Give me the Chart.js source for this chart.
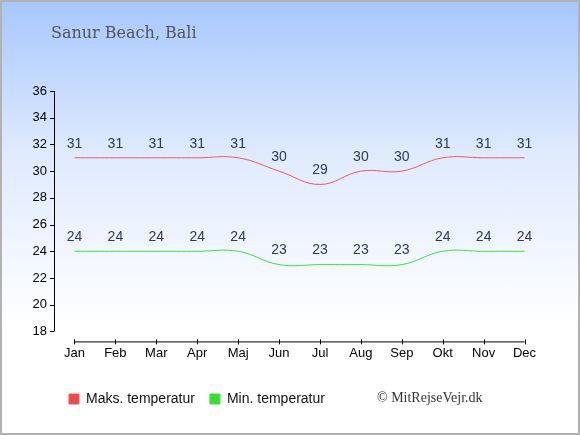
<!DOCTYPE html>
<html>
<head>
<meta charset="utf-8">
<script src="https://cdn.jsdelivr.net/npm/chart.js@4"></script>
<style>
  body { margin: 0; }
  #wrap {
    position: relative;
    width: 580px;
    height: 435px;
    background: linear-gradient(to bottom, #a6c7fe 0%, #dfeafe 35%, #ffffff 75%, #ffffff 100%);
    box-shadow: inset 0 0 0 2px #b2b2b2;
  }
  #chart { position: absolute; left: 0; top: 0; }
</style>
</head>
<body>
<div id="wrap"><canvas id="chart" width="580" height="435"></canvas></div>
<script>
const months = ['Jan', 'Feb', 'Mar', 'Apr', 'Maj', 'Jun', 'Jul', 'Aug', 'Sep', 'Okt', 'Nov', 'Dec'];
const maxTemp = [31, 31, 31, 31, 31, 30, 29, 30, 30, 31, 31, 31];
const minTemp = [24, 24, 24, 24, 24, 23, 23, 23, 23, 24, 24, 24];
const yMin = 18;
const yMax = 36;
const yStep = 2;

// axis lines drawn by hand, y axis and x axis are detached like the original
const axisLines = {
  id: 'axisLines',
  afterDraw(chart) {
    const ctx = chart.ctx;
    const x = chart.scales.x;
    const y = chart.scales.y;
    const left = chart.chartArea.left;
    const xAxisY = chart.chartArea.bottom + 10;
    ctx.save();
    ctx.strokeStyle = '#000';
    ctx.lineWidth = 1;
    ctx.beginPath();
    ctx.moveTo(left + 0.5, y.getPixelForValue(yMax));
    ctx.lineTo(left + 0.5, y.getPixelForValue(yMin));
    for (let v = yMin; v <= yMax; v += yStep) {
      const py = Math.round(y.getPixelForValue(v)) + 0.5;
      ctx.moveTo(left - 4, py);
      ctx.lineTo(left, py);
    }
    const x0 = x.getPixelForValue(0);
    const x1 = x.getPixelForValue(months.length - 1);
    ctx.moveTo(x0, xAxisY + 0.5);
    ctx.lineTo(x1, xAxisY + 0.5);
    for (let i = 0; i < months.length; i++) {
      const px = Math.round(x.getPixelForValue(i)) + 0.5;
      ctx.moveTo(px, xAxisY - 2);
      ctx.lineTo(px, xAxisY + 3);
    }
    ctx.stroke();

    // value labels above points
    ctx.fillStyle = '#2b3a5c';
    ctx.font = '14px "Liberation Sans", Arial, sans-serif';
    ctx.textAlign = 'center';
    ctx.textBaseline = 'middle';
    chart.data.datasets.forEach((ds, i) => {
      chart.getDatasetMeta(i).data.forEach((pt, j) => {
        ctx.fillText(ds.data[j], pt.x, pt.y - 14);
      });
    });

    // title
    ctx.fillStyle = '#555';
    ctx.font = '16px "DejaVu Serif", serif';
    ctx.textAlign = 'left';
    ctx.textBaseline = 'alphabetic';
    ctx.fillText('Sanur Beach, Bali', 51, 38);

    // copyright
    ctx.fillStyle = '#333';
    ctx.font = '14px "Liberation Serif", "Times New Roman", serif';
    ctx.textBaseline = 'middle';
    ctx.fillText('© MitRejseVejr.dk', 377, 398);
    ctx.restore();
  }
};

new Chart(document.getElementById('chart'), {
  type: 'line',
  data: {
    labels: months,
    datasets: [
      {
        label: 'Maks. temperatur',
        data: maxTemp,
        borderColor: '#ee5a5a',
        backgroundColor: '#f04848',
        borderWidth: 1,
        pointRadius: 0,
        tension: 0.4
      },
      {
        label: 'Min. temperatur',
        data: minTemp,
        borderColor: '#3ede3e',
        backgroundColor: '#33e033',
        borderWidth: 1,
        pointRadius: 0,
        tension: 0.4
      }
    ]
  },
  options: {
    responsive: false,
    animation: false,
    layout: { padding: { left: 32, right: 35, top: 91, bottom: 19 } },
    scales: {
      x: {
        offset: true,
        afterFit(scale) { scale.height += 2; },
        border: { display: false },
        grid: { display: false, drawTicks: false },
        ticks: {
          padding: 14,
          color: '#000',
          font: { family: '"Liberation Sans", Arial, sans-serif', size: 13 }
        }
      },
      y: {
        min: yMin,
        max: yMax,
        afterFit(scale) { scale.width = 22; },
        border: { display: false },
        grid: { display: false, drawTicks: false },
        ticks: {
          stepSize: yStep,
          padding: 7,
          color: '#000',
          font: { family: '"Liberation Sans", Arial, sans-serif', size: 13 }
        }
      }
    },
    plugins: {
      legend: {
        position: 'bottom',
        align: 'start',
        fullSize: false,
        labels: {
          boxWidth: 10,
          boxHeight: 10,
          padding: 15,
          color: '#111',
          font: { family: '"Liberation Sans", Arial, sans-serif', size: 14 }
        }
      },
      tooltip: { enabled: false }
    }
  },
  plugins: [axisLines]
});
</script>
</body>
</html>
